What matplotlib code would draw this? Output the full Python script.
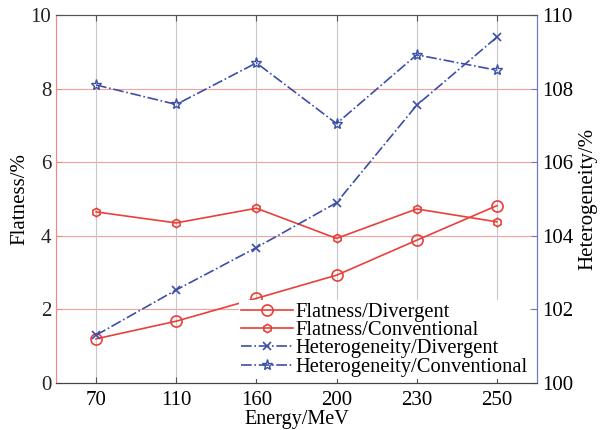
import matplotlib.pyplot as plt

plt.rcParams['font.family'] = ['Liberation Serif', 'DejaVu Serif']

# --- datos ---
energias = ["70", "110", "160", "200", "230", "250"]
flat_div = [1.2, 1.68, 2.3, 2.93, 3.88, 4.82]
flat_conv = [4.65, 4.35, 4.75, 3.93, 4.73, 4.38]
het_div = [101.3, 102.53, 103.68, 104.9, 107.55, 109.4]
het_conv = [108.1, 107.57, 108.7, 107.05, 108.92, 108.5]

rojo = "#e8403a"
azul = "#3c4fa8"

fig = plt.figure(figsize=(6.04, 4.3), dpi=100)
ax = fig.add_axes([0.0927, 0.1093, 0.7963, 0.8557])
ax2 = ax.twinx()

x = range(1, len(energias) + 1)

# rejilla
for v in [2, 4, 6, 8]:
    ax.axhline(v, color="#f3a29c", lw=0.8, zorder=0)
for xi in x:
    ax.axvline(xi, color="#c8c8c8", lw=0.8, zorder=0)

l1, = ax.plot(x, flat_div, color=rojo, lw=1.2, marker="o", ms=8,
              mfc="none", mec=rojo, mew=1.2, label="Flatness/Divergent")
l2, = ax.plot(x, flat_conv, color=rojo, lw=1.2, marker="h", ms=6,
              mfc="none", mec=rojo, mew=1.2, label="Flatness/Conventional")
l3, = ax2.plot(x, het_div, color=azul, lw=1.2, ls="-.", marker="x", ms=6,
               mec=azul, mew=1.2, label="Heterogeneity/Divergent")
l4, = ax2.plot(x, het_conv, color=azul, lw=1.2, ls="-.", marker="*", ms=8,
               mfc="none", mec=azul, mew=1.0, label="Heterogeneity/Conventional")

ax.set_xlim(0.5, 6.5)
ax.set_ylim(0, 10)
ax2.set_ylim(100, 110)
ax.set_xticks(list(x))
ax.set_xticklabels(energias)
ax.set_yticks([0, 2, 4, 6, 8, 10])
ax2.set_yticks([100, 102, 104, 106, 108, 110])

ax.set_xlabel("Energy/MeV", fontsize=14.5, labelpad=0)
ax.set_ylabel("Flatness/%", fontsize=15, labelpad=1)
ax2.set_ylabel("Heterogeneity/%", fontsize=15, labelpad=4)

ax.tick_params(axis="x", direction="in", top=True, labelsize=15, pad=6,
               length=4, color="#555555")
ax.tick_params(axis="y", direction="in", labelcolor="#222222", labelsize=15,
               length=4, color="#ee8a80")
ax2.tick_params(axis="y", direction="in", labelsize=15, length=4,
                color="#7078c0")

for a in (ax, ax2):
    a.spines["left"].set_color("#ee8a80")
    a.spines["right"].set_color("#7078c0")
    a.spines["top"].set_color("#555555")
    a.spines["bottom"].set_color("#444444")

leg = ax2.legend(handles=[l1, l2, l3, l4], loc="lower right",
                 bbox_to_anchor=(0.994, 0.0), fontsize=14.8, frameon=True,
                 fancybox=False, edgecolor="none", facecolor="white",
                 framealpha=1, handlelength=2.5, handletextpad=0.15,
                 labelspacing=-0.05, borderpad=0.1, borderaxespad=0.2)

fig.savefig("out.png", dpi=100)
